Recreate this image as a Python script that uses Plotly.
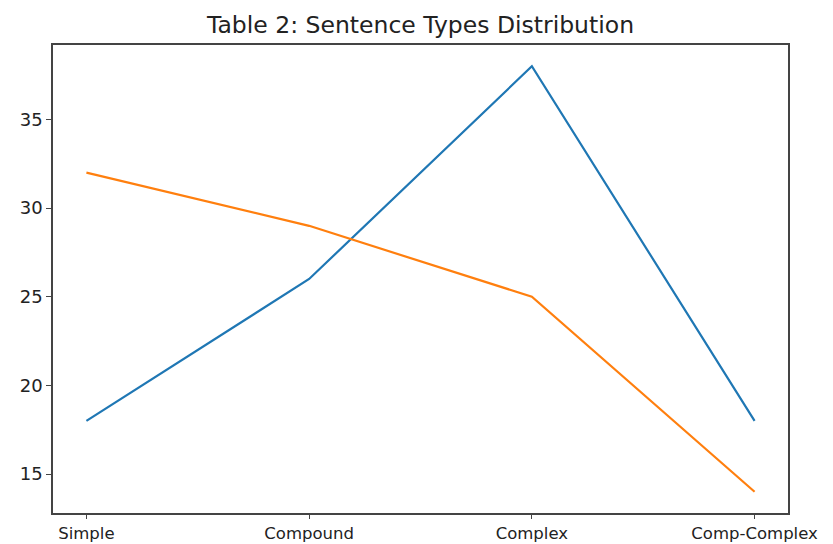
import plotly.graph_objects as go

categories = ["Simple", "Compound", "Complex", "Comp-Complex"]
series_a = [18, 26, 38, 18]
series_b = [32, 29, 25, 14]
y_ticks = [15, 20, 25, 30, 35]

x_pos = list(range(len(categories)))

fig = go.Figure()
fig.add_trace(go.Scatter(x=x_pos, y=series_a, mode="lines",
                         line=dict(color="#1f77b4", width=2.2), showlegend=False))
fig.add_trace(go.Scatter(x=x_pos, y=series_b, mode="lines",
                         line=dict(color="#ff7f0e", width=2.2), showlegend=False))

axis_common = dict(showline=True, linecolor="#444", linewidth=1.5, mirror=True,
                   showgrid=False, zeroline=False, ticks="outside",
                   tickcolor="#444", tickwidth=1.2, automargin=False)

fig.update_layout(
    width=833, height=544,
    margin=dict(l=53, r=45, t=45, b=31),
    paper_bgcolor="white", plot_bgcolor="white",
    title=dict(text="Table 2: Sentence Types Distribution",
               font=dict(family="DejaVu Sans", size=23.5, color="#222"),
               x=(53 + 788) / 2 / 833, xanchor="center", y=1 - 25 / 544, yanchor="middle"),
    xaxis=dict(range=[-0.15, 3.15], tickvals=x_pos, ticktext=categories,
               ticklen=4, ticklabelstandoff=0,
               tickfont=dict(family="DejaVu Sans", size=16.5, color="#222"),
               **axis_common),
    yaxis=dict(range=[12.8, 39.2], tickvals=y_ticks, ticklen=5,
               tickfont=dict(family="DejaVu Sans", size=18, color="#222"),
               **axis_common),
)

fig.write_html("out.html")
